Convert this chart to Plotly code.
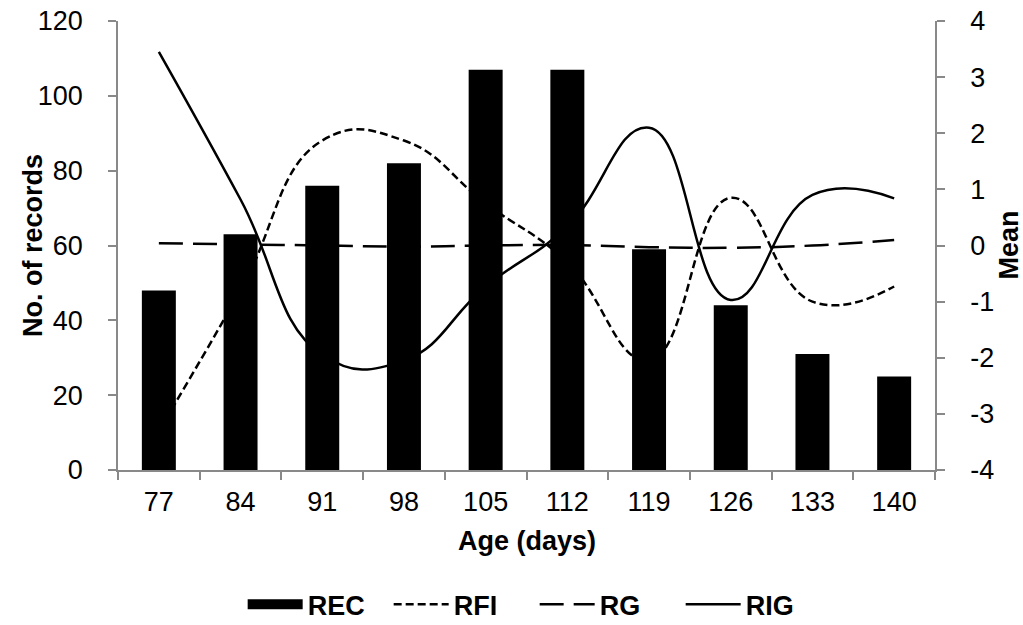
import plotly.graph_objects as go

ages = ["77", "84", "91", "98", "105", "112", "119", "126", "133", "140"]
rec = [48, 63, 76, 82, 107, 107, 59, 44, 31, 25]
rfi = [-3.3, -0.8, 1.87, 1.87, 0.75, -0.3, -2.05, 0.85, -1.0, -0.73]
rg = [0.04, 0.02, 0.0, -0.02, 0.0, 0.01, -0.03, -0.04, 0.0, 0.1]
rig = [3.45, 0.82, -1.95, -2.05, -0.73, 0.34, 2.1, -0.97, 0.9, 0.84]

mean_ticks = [-4, -3, -2, -1, 0, 1, 2, 3, 4]
mean_labels = ["-4", "-3", "-2", "-1", "0", "1", "2", "3", "4"]
rec_ticks = [0, 20, 40, 60, 80, 100, 120]

FONT = "Liberation Sans, Arial, sans-serif"
GRAY = "#898989"

fig = go.Figure()
# bars on y2 (drawn on top of lines, as in the reference)
fig.add_trace(go.Bar(x=ages, y=rec, name="REC", marker=dict(color="black", line=dict(width=0)),
                     yaxis="y2", showlegend=False))
fig.add_trace(go.Scatter(x=[None], y=[None], mode="lines", name="<b>REC</b>",
                         line=dict(color="black", width=14), yaxis="y2"))
fig.add_trace(go.Scatter(x=ages, y=rfi, mode="lines", name="<b>RFI</b>",
                         line=dict(color="black", width=2.5, dash="8px,4px", shape="spline", smoothing=1.3)))
fig.add_trace(go.Scatter(x=ages, y=rg, mode="lines", name="<b>RG</b>",
                         line=dict(color="black", width=2.5, dash="24px,10px", shape="spline", smoothing=1.3)))
fig.add_trace(go.Scatter(x=ages, y=rig, mode="lines", name="<b>RIG</b>",
                         line=dict(color="black", width=2.5, shape="spline", smoothing=1.3)))

axis_common = dict(showline=True, linecolor=GRAY, linewidth=1.5, ticks="outside", ticklen=8,
                   tickcolor=GRAY, tickwidth=1.5, showgrid=False, zeroline=False, automargin=False,
                   ticklabeloverflow="allow",
                   tickfont=dict(family=FONT, size=27, color="black"))

title_font = dict(family=FONT, size=27, color="black")

fig.update_layout(
    width=1023, height=625,
    margin=dict(l=118, r=88, t=21, b=155, autoexpand=False),
    paper_bgcolor="white", plot_bgcolor="white",
    bargap=0.584,
    font=dict(family=FONT, size=27, color="black"),
    xaxis=dict(**axis_common, type="category", tickson="boundaries", ticklabelstandoff=7),
    yaxis=dict(**axis_common, side="right", range=[-4, 4], tickvals=mean_ticks, ticktext=mean_labels,
               ticklabelstandoff=20),
    yaxis2=dict(**axis_common, side="left", overlaying="y", range=[0, 120], tickvals=rec_ticks,
                ticklabelstandoff=20),
    legend=dict(orientation="h", x=0.51, xanchor="center", y=-0.30, yanchor="middle",
                font=dict(family=FONT, size=27, color="black"), itemwidth=55,
                entrywidth=76, traceorder="normal"),
    annotations=[
        dict(text="<b>No. of records</b>", xref="paper", yref="paper", x=-0.1047, y=0.5,
             textangle=-90, showarrow=False, font=title_font, xanchor="center", yanchor="middle"),
        dict(text="<b>Mean</b>", xref="paper", yref="paper", x=1.0894, y=0.5,
             textangle=-90, showarrow=False, font=title_font, xanchor="center", yanchor="middle"),
        dict(text="<b>Age (days)</b>", xref="paper", yref="paper", x=0.5, y=-0.158,
             showarrow=False, font=title_font, xanchor="center", yanchor="middle"),
    ],
)

fig.write_html("out.html", config={"displayModeBar": False},
               post_script="document.body.style.margin='0';document.body.style.overflow='hidden';")
